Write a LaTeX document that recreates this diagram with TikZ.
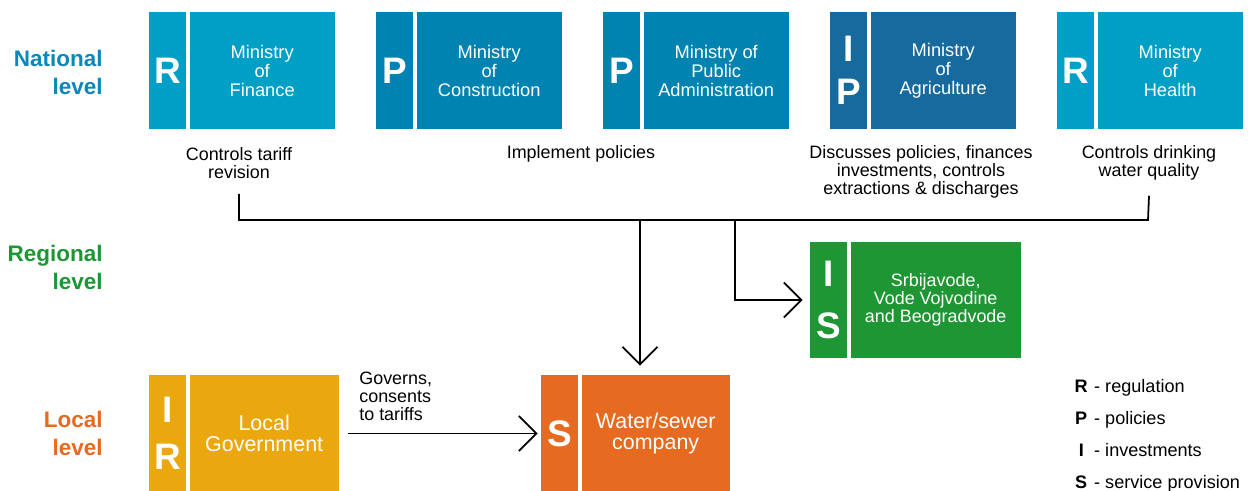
\documentclass[tikz,border=0pt]{standalone}
\usepackage{fontspec}
\setmainfont{Liberation Sans}
\usetikzlibrary{positioning,arrows.meta}
\definecolor{lightblue}{RGB}{0,160,198}
\definecolor{midblue}{RGB}{0,131,176}
\definecolor{deepblue}{RGB}{22,106,157}
\definecolor{regreen}{RGB}{30,150,52}
\definecolor{locyellow}{RGB}{234,167,14}
\definecolor{locorange}{RGB}{230,106,32}
\definecolor{natblue}{RGB}{10,136,184}

\begin{document}
\begin{tikzpicture}[x=0.02cm, y=-0.02cm,
    letter/.style={fill=#1, text=white, minimum width=0.74cm, minimum height=2.34cm, inner sep=0pt, align=center, font=\fontsize{21}{24.5}\selectfont\bfseries},
    mbox/.style={fill=#1, text=white, minimum width=2.9cm, minimum height=2.34cm, inner sep=0pt, align=center, font=\fontsize{10.4}{10.8}\selectfont},
    rolecap/.style={align=center, inner sep=0pt, font=\fontsize{10.2}{10.3}\selectfont},
    lvl/.style={anchor=east, align=right, inner sep=0pt, text=#1, font=\fontsize{12.8}{15.9}\selectfont\bfseries},
    legend/.style={anchor=base west, inner sep=0pt, font=\fontsize{10.3}{12}\selectfont},
    link/.style={line width=1pt},
    arr/.style={line width=1pt, -{Straight Barb[length=10pt, width=20pt, line width=1pt]}},
  ]
    \useasboundingbox (0,0) rectangle (1250,490);

    % Levels
    \node[lvl=natblue] (natLvl) at (103,72) {National\\level};
    \node[lvl=regreen] (regLvl) at (103,267) {Regional\\level};
    \node[lvl=locorange] (locLvl) at (103,433) {Local\\level};

    % National level ministries
    \node[letter=lightblue] (finL) at (167.5,70.5) {R};
    \node[mbox=lightblue, right=0.06cm of finL] (fin) {Ministry\\of\\Finance};
    \node[letter=midblue] (conL) at (394.5,70.5) {P};
    \node[mbox=midblue, right=0.06cm of conL] (con) {Ministry\\of\\Construction};
    \node[letter=midblue] (admL) at (621.5,70.5) {P};
    \node[mbox=midblue, right=0.06cm of admL] (adm) {Ministry of\\Public\\Administration};
    \node[letter=deepblue] (agrL) at (848.5,70.5) {I\\P};
    \node[mbox=deepblue, right=0.06cm of agrL] (agr) {Ministry\\of\\Agriculture};
    \node[letter=lightblue] (hlL) at (1075.5,70.5) {R};
    \node[mbox=lightblue, right=0.06cm of hlL] (hl) {Ministry\\of\\Health};

    % Roles
    \node[rolecap] (finC) at (239,163) {Controls tariff\\revision};
    \node[rolecap] (admC) at (581,154) {Implement policies};
    \node[rolecap] (agrC) at (921,172) {Discusses policies, finances\\investments, controls\\extractions \& discharges};
    \node[rolecap] (hlC) at (1149,163) {Controls drinking\\water quality};

    % Regional level
    \node[letter=regreen, font=\fontsize{21}{29.5}\selectfont\bfseries] (regL) at (828.5,300) {I\\S};
    \node[mbox=regreen, minimum width=3.4cm, font=\fontsize{10.2}{10.3}\selectfont, right=0.06cm of regL] (reg) {Srbijavode,\\Vode Vojvodine\\and Beogradvode};

    % Local level
    \node[letter=locyellow, font=\fontsize{21}{27}\selectfont\bfseries] (lgovL) at (167.5,433.5) {I\\R};
    \node[mbox=locyellow, minimum width=2.98cm, font=\fontsize{12.2}{12}\selectfont, right=0.06cm of lgovL] (lgov) {Local\\Government};
    \node[letter=locorange] (wsL) at (559.5,433.5) {S};
    \node[mbox=locorange, minimum width=2.96cm, font=\fontsize{12.2}{12}\selectfont, right=0.06cm of wsL] (ws) {Water/sewer\\company};
    \node[rolecap, anchor=west, align=left] (govC) at (359,396) {Governs,\\consents\\to tariffs};

    % Connectors
    \coordinate (busL) at (239,220);
    \coordinate (busR) at (1148,220);
    \coordinate (busA) at (640,220);
    \coordinate (busB) at (735,220);
    \draw[link] ([yshift=-0.3cm]finC.south) -- (busL) -- (busR) -- ([yshift=-0.3cm]hlC.south);
    \draw[arr, shorten >=0.18cm] (busA) -- (busA |- ws.north);
    \draw[arr, shorten >=0.14cm] (busB) |- (regL.west);
    \draw[arr] ([xshift=0.18cm]lgov.east) -- ([xshift=-0.06cm]wsL.west);

    % Legend
    \node[legend] (legR) at (1073,392) {\makebox[9pt][c]{\bfseries R} - regulation};
    \node[legend] (legP) at (1073,424) {\makebox[9pt][c]{\bfseries P} - policies};
    \node[legend] (legI) at (1073,456) {\makebox[9pt][c]{\bfseries I} - investments};
    \node[legend] (legS) at (1073,488) {\makebox[9pt][c]{\bfseries S} - service provision};
\end{tikzpicture}
\end{document}
